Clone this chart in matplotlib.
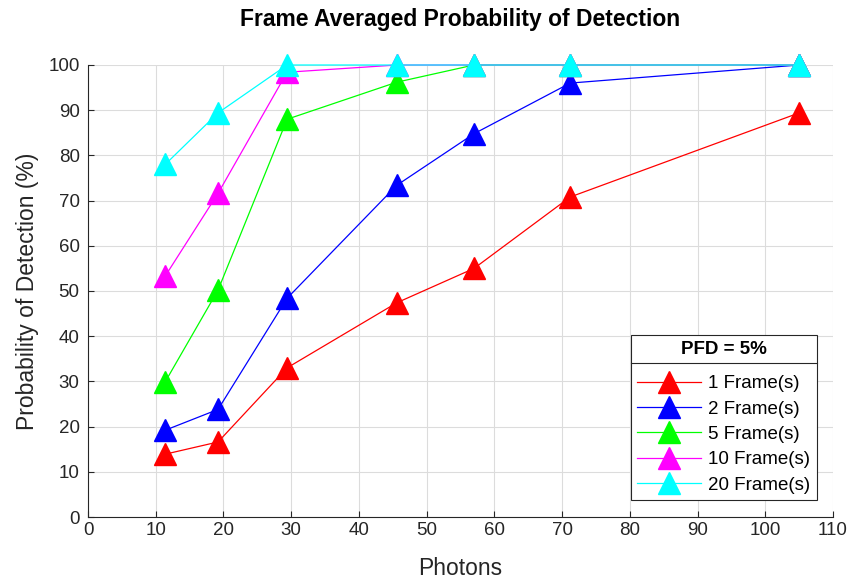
import matplotlib.pyplot as plt
from matplotlib.lines import Line2D

plt.rcParams['font.family'] = ['Liberation Sans', 'DejaVu Sans']

photons = [11.4, 19.2, 29.4, 45.6, 57.0, 71.2, 105.0]

pd_1 = [13.9, 16.6, 33.0, 47.4, 55.0, 70.8, 89.4]
pd_2 = [19.2, 23.8, 48.4, 73.4, 84.8, 96.0, 100.0]
pd_5 = [29.9, 50.2, 88.0, 96.2, 100.0, 100.0, 100.0]
pd_10 = [53.3, 71.6, 98.4, 100.0, 100.0, 100.0, 100.0]
pd_20 = [78.0, 89.4, 100.0, 100.0, 100.0, 100.0, 100.0]

series = [pd_1, pd_2, pd_5, pd_10, pd_20]
labels = ['1 Frame(s)', '2 Frame(s)', '5 Frame(s)', '10 Frame(s)', '20 Frame(s)']
colors = ['#ff0000', '#0000ff', '#00ff00', '#ff00ff', '#00ffff']

fig = plt.figure(figsize=(8.55, 5.82), dpi=100)
ax = fig.add_axes([88 / 855, 1 - 517 / 582, 745 / 855, 452 / 582])

for vals, lab, col in zip(series, labels, colors):
    ax.plot(photons, vals, color=col, lw=0.9, marker='^', markersize=16,
            markeredgecolor=col, markerfacecolor=col, label=lab, clip_on=False)

ax.set_xlim(0, 110)
ax.set_ylim(0, 100)
ax.set_xticks(range(0, 111, 10))
ax.set_yticks(range(0, 101, 10))
ax.grid(True, color='#dcdcdc', lw=0.8)
ax.set_axisbelow(True)
ax.tick_params(direction='in', length=4, labelsize=13.5, colors='#262626', top=False, right=False)
ax.tick_params(axis='y', pad=6)
for s in ax.spines.values():
    s.set_color('#262626')
    s.set_linewidth(0.8)
ax.spines['top'].set_visible(False)
ax.spines['right'].set_visible(False)

ax.set_xlabel('Photons', fontsize=16.5, color='#262626', labelpad=13)
ax.set_ylabel('Probability of Detection (%)', fontsize=16.5, color='#262626', labelpad=7)
ax.set_title('Frame Averaged Probability of Detection', fontsize=16.5, fontweight='bold', pad=28)

leg = ax.legend(loc='lower right', bbox_to_anchor=(0.978, 0.037), fontsize=13.5,
                title='PFD = 5%', title_fontproperties={'weight': 'bold', 'size': 13.5},
                frameon=True, fancybox=False, edgecolor='#262626', framealpha=1,
                handlelength=3.4, handletextpad=0.37, labelspacing=0.44, borderpad=0.35,
                borderaxespad=0)
leg.get_frame().set_linewidth(0.8)
leg._legend_box.sep = 12

fig.canvas.draw()
r = fig.canvas.get_renderer()
lb = leg.get_window_extent(r)
tb = leg.get_title().get_window_extent(r)
ysep = tb.y0 - 5
fig.add_artist(Line2D([lb.x0 / 855, lb.x1 / 855], [ysep / 582, ysep / 582],
                      color='#262626', lw=0.8, transform=fig.transFigure))

fig.savefig('out.png', dpi=100)
